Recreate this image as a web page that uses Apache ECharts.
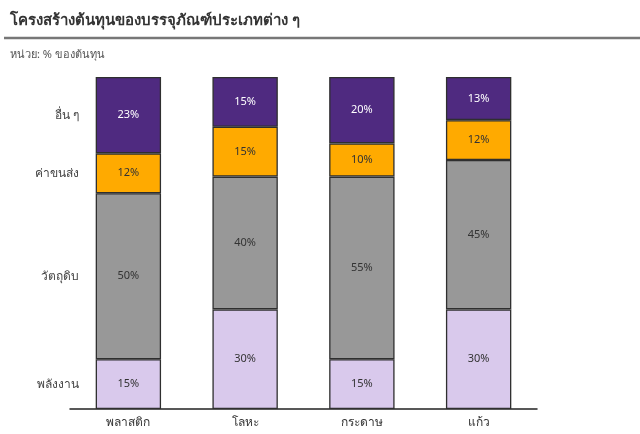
<!DOCTYPE html>
<html><head><meta charset="utf-8">
<script src="https://cdn.jsdelivr.net/npm/echarts@6/dist/echarts.min.js"></script>
<style>html,body{margin:0;padding:0;background:#fff}#c{width:640px;height:434px}</style>
</head><body><div id="c"></div>
<script>
const categories = ['พลาสติก', 'โลหะ', 'กระดาษ', 'แก้ว'];
const seriesNames = ['พลังงาน', 'วัตถุดิบ', 'ค่าขนส่ง', 'อื่น ๆ'];
const energy = [15, 30, 15, 30];
const material = [50, 40, 55, 45];
const transport = [12, 15, 10, 12];
const other = [23, 15, 20, 13];

const values = [energy, material, transport, other];
const colors = ['#D9C9EC', '#989898', '#FFAA00', '#4F2A80'];
const textColors = ['#333', '#333', '#333', '#fff'];
const FONT = 'Tahoma, "Noto Sans", "DejaVu Sans", sans-serif';

let cum = 0;
const series = values.map((arr, i) => {
  const mid = cum + arr[0] / 2;
  cum += arr[0];
  return {
    name: seriesNames[i],
    type: 'bar',
    stack: 'total',
    barWidth: '56%',
    data: arr,
    itemStyle: { color: colors[i], borderColor: '#2f2f2f', borderWidth: 1.3 },
    label: { show: true, position: 'inside', formatter: '{c}%', color: textColors[i], fontSize: 11, fontFamily: FONT },
    markPoint: {
      symbol: 'rect', symbolSize: 0, silent: true,
      data: [{ coord: [0, mid], value: seriesNames[i] }],
      label: { show: true, position: 'left', distance: 49, formatter: seriesNames[i], color: '#444', fontSize: 12, fontFamily: FONT }
    }
  };
});

const chart = echarts.init(document.getElementById('c'));
chart.setOption({
  animation: false,
  title: [{
    text: 'โครงสร้างต้นทุนของบรรจุภัณฑ์ประเภทต่าง ๆ',
    left: 5, top: 8,
    textStyle: { fontSize: 15, fontWeight: 'bold', color: '#333', fontFamily: FONT }
  }, {
    text: 'หน่วย: % ของต้นทุน',
    left: 5, top: 44,
    textStyle: { fontSize: 11, fontWeight: 'normal', color: '#555', fontFamily: FONT }
  }],
  graphic: [{ type: 'line', shape: { x1: 4, y1: 38, x2: 640, y2: 38 }, style: { stroke: '#777', lineWidth: 2.5 } }],
  grid: { left: 70, right: 103, top: 77, bottom: 25 },
  xAxis: {
    type: 'category', data: categories,
    axisLine: { lineStyle: { color: '#222', width: 1.5 } },
    axisTick: { show: false },
    axisLabel: { color: '#333', fontSize: 12, margin: 8, fontFamily: FONT }
  },
  yAxis: { type: 'value', min: 0, max: 100, show: false, splitLine: { show: false } },
  series
});
</script></body></html>
